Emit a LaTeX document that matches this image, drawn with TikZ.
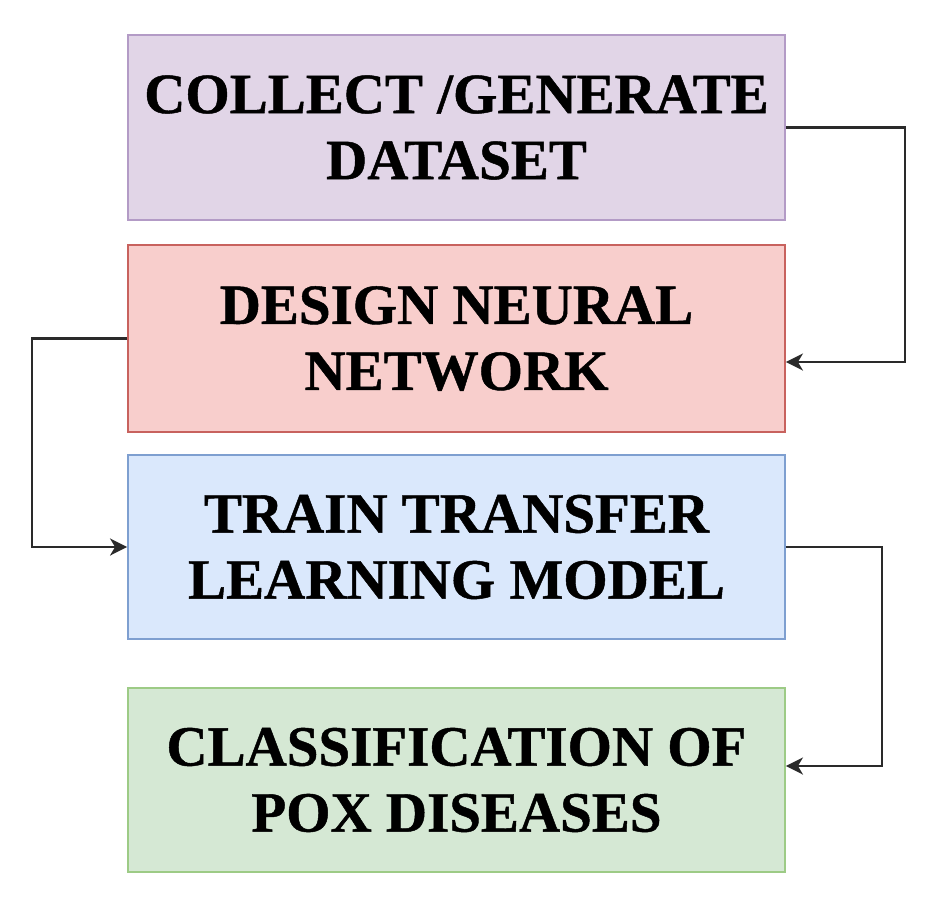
\documentclass[tikz,border=0pt]{standalone}
\usepackage{fontspec}
\setmainfont{Liberation Serif}[BoldFeatures={FakeBold=0.8}]
\usetikzlibrary{arrows.meta}
\definecolor{pfill}{HTML}{E1D5E7}\definecolor{pdraw}{HTML}{B39BC6}
\definecolor{rfill}{HTML}{F8CECC}\definecolor{rdraw}{HTML}{C8625E}
\definecolor{bfill}{HTML}{DAE8FC}\definecolor{bdraw}{HTML}{7E9FD0}
\definecolor{gfill}{HTML}{D5E8D4}\definecolor{gdraw}{HTML}{9DCB86}
\definecolor{arrcol}{HTML}{2A2A2A}
\tikzset{
  stagebox/.style={draw, line width=1.8pt, minimum width=657pt, inner sep=0pt, align=center,
    font=\bfseries\fontsize{57}{66}\selectfont},
  flowarrow/.style={draw=arrcol, line width=2.6pt,
    -{Stealth[length=17pt,width=17pt,inset=5pt]}}
}
\begin{document}
\begin{tikzpicture}[x=1pt,y=-1pt]
\useasboundingbox (0,0) rectangle (938,910);
\fill[white] (0,0) rectangle (938,910);
\node[stagebox, fill=pfill, draw=pdraw, minimum height=185pt] (b1) at (456.5,127.5) {COLLECT /GENERATE\\DATASET};
\node[stagebox, fill=rfill, draw=rdraw, minimum height=187pt] (b2) at (456.5,338.5) {DESIGN NEURAL\\NETWORK};
\node[stagebox, fill=bfill, draw=bdraw, minimum height=184pt] (b3) at (456.5,547) {TRAIN TRANSFER\\LEARNING MODEL};
\node[stagebox, fill=gfill, draw=gdraw, minimum height=184pt] (b4) at (456.5,780) {CLASSIFICATION OF\\POX DISEASES};
\coordinate (k1) at (905,362);
\coordinate (k2) at (32,547);
\coordinate (k3) at (882,766);
\draw[flowarrow] (b1.east) -| (k1) -- (b2.east |- k1);
\draw[flowarrow] (b2.west) -| (k2) -- (b3.west);
\draw[flowarrow] (b3.east) -| (k3) -- (b4.east |- k3);
\end{tikzpicture}
\end{document}
